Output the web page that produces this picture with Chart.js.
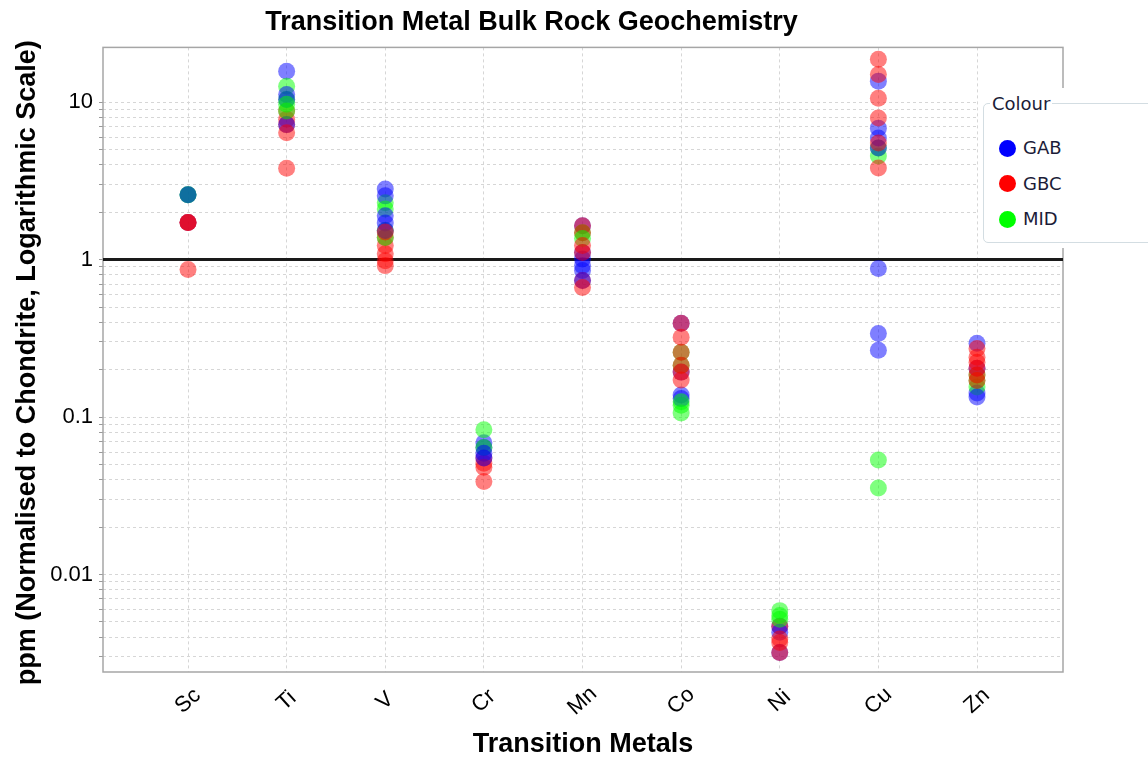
<!DOCTYPE html>
<html>
<head>
<meta charset="utf-8">
<script src="https://cdn.jsdelivr.net/npm/chart.js@4.4.0/dist/chart.umd.min.js"></script>
<style>
  body { margin: 0; background: #fff; }
  #wrap { position: relative; width: 1148px; height: 762px; overflow: hidden; background: #fff; }
  #legend { position: absolute; left: 978px; top: 88px; width: 200px; height: 160px; background: #fff;
            font-family: 'DejaVu Sans', sans-serif; color: #1c1c38; font-size: 18px; }
  #legend .box { position: absolute; left: 5px; top: 15px; width: 230px; height: 140px;
                 border: 1.5px solid #d3dde2; border-radius: 5px; box-sizing: border-box; }
  #legend .ttl { position: absolute; left: 12px; top: 6px; line-height: 20px; padding: 0 2px; background: #fff; }
  #legend .dot { position: absolute; width: 17px; height: 17px; border-radius: 50%; }
  #legend .lab { position: absolute; left: 45px; line-height: 20px; }
</style>
</head>
<body>
<div id="wrap">
  <canvas id="c" width="1148" height="762"></canvas>
  <div id="legend">
    <div class="box"></div>
    <div class="ttl">Colour</div>
    <div class="dot" style="left:20.5px;top:51.5px;background:#0000ff"></div><div class="lab" style="top:50px">GAB</div>
    <div class="dot" style="left:20.5px;top:87px;background:#ff0000"></div><div class="lab" style="top:85.5px">GBC</div>
    <div class="dot" style="left:20.5px;top:122.5px;background:#00ff00"></div><div class="lab" style="top:121px">MID</div>
  </div>
</div>
<script>
const metals = ['Sc', 'Ti', 'V', 'Cr', 'Mn', 'Co', 'Ni', 'Cu', 'Zn'];
const groupNames = ['GAB', 'GBC', 'MID'];

// values per metal (Sc..Zn), each a list of samples
const gabValues = [
  [2.58, 1.72, 2.58],
  [15.7, 11.2, 10.4, 7.2],
  [2.81, 2.54, 1.90, 1.71, 1.53],
  [0.0686, 0.064, 0.059, 0.055],
  [1.64, 1.11, 1.01, 0.916, 0.852, 0.736],
  [0.394, 0.193, 0.138, 0.131],
  [0.0047, 0.0043, 0.0032],
  [13.6, 6.84, 5.92, 5.11, 0.877, 0.340, 0.266],
  [0.294, 0.204, 0.142, 0.134]
];
const gbcValues = [
  [1.72, 1.72, 0.865, 1.72],
  [8.8, 7.8, 7.2, 6.4, 3.8],
  [1.38, 1.23, 1.09, 0.985, 0.916, 1.5],
  [0.055, 0.051, 0.048, 0.039],
  [1.64, 1.48, 1.23, 1.11, 0.736, 0.665],
  [0.394, 0.321, 0.258, 0.213, 0.193, 0.172],
  [0.0047, 0.0039, 0.0037, 0.0032],
  [18.7, 15.0, 10.6, 7.92, 5.50, 3.82],
  [0.273, 0.240, 0.223, 0.204, 0.185, 0.171]
];
const midValues = [
  [2.58, 2.58],
  [12.6, 10.4, 9.7, 8.8],
  [2.30, 2.10, 1.53, 1.38],
  [0.083, 0.064],
  [1.48, 1.36],
  [0.258, 0.213, 0.119, 0.106, 0.125],
  [0.0059, 0.0055, 0.0052],
  [5.11, 4.55, 0.0534, 0.0355],
  [0.185, 0.171, 0.155]
];
const groupColours = ['rgba(0,0,255,0.5)', 'rgba(255,0,0,0.5)', 'rgba(0,255,0,0.5)'];

const yTickValues = [0.003, 0.004, 0.005, 0.006, 0.007, 0.008, 0.009,
  0.01, 0.02, 0.03, 0.04, 0.05, 0.06, 0.07, 0.08, 0.09,
  0.1, 0.2, 0.3, 0.4, 0.5, 0.6, 0.7, 0.8, 0.9,
  1, 2, 3, 4, 5, 6, 7, 8, 9, 10];
const yLabelled = [0.01, 0.1, 1, 10];
const referenceLevel = 1;

const titleText = 'Transition Metal Bulk Rock Geochemistry';
const xTitleText = 'Transition Metals';
const yTitleText = 'ppm (Normalised to Chondrite, Logarithmic Scale)';

const FONT = "'Liberation Sans', Arial, sans-serif";

const groupValues = [gabValues, gbcValues, midValues];
let maxLayer = 0;
groupValues.forEach(g => g.forEach(l => { maxLayer = Math.max(maxLayer, l.length); }));
const datasets = [];
for (let k = 0; k < maxLayer; k++) {
  groupValues.forEach((vals, g) => {
    const pts = [];
    vals.forEach((list, i) => { if (k < list.length) pts.push({ x: i, y: list[k] }); });
    if (pts.length) datasets.push({
      label: groupNames[g], data: pts, backgroundColor: groupColours[g],
      borderWidth: 0, pointRadius: 8.5, pointHoverRadius: 8.5, order: -(k * 3 + g)
    });
  });
}

const decorations = {
  id: 'decorations',
  beforeDatasetsDraw(chart) {
    const { ctx, chartArea: a, scales: { y } } = chart;
    const yy = y.getPixelForValue(referenceLevel);
    ctx.save();
    ctx.strokeStyle = '#a6a6a6';
    ctx.lineWidth = 1.5;
    ctx.strokeRect(a.left, a.top, a.right - a.left, a.bottom - a.top);
    ctx.strokeStyle = '#1a1a1a';
    ctx.lineWidth = 3;
    ctx.beginPath(); ctx.moveTo(a.left, yy); ctx.lineTo(a.right, yy); ctx.stroke();
    ctx.restore();
  },
  afterDraw(chart) {
    const { ctx, chartArea: a, scales: { x } } = chart;
    ctx.save();
    ctx.fillStyle = '#000';
    ctx.font = '22px ' + FONT;
    ctx.textAlign = 'center';
    ctx.textBaseline = 'middle';
    metals.forEach((m, i) => {
      const px = x.getPixelForValue(i);
      ctx.save();
      ctx.translate(px, a.bottom + 29);
      ctx.rotate(-42 * Math.PI / 180);
      ctx.fillText(m, 0, 0);
      ctx.restore();
    });
    ctx.font = 'bold 27px ' + FONT;
    ctx.translate(28, (a.top + a.bottom) / 2 + 3);
    ctx.rotate(-Math.PI / 2);
    ctx.fillText(yTitleText, 0, 0);
    ctx.restore();
  }
};

new Chart(document.getElementById('c'), {
  type: 'scatter',
  data: { datasets },
  options: {
    responsive: false,
    animation: false,
    events: [],
    layout: { padding: { top: 6, right: 85, bottom: 0, left: 0 } },
    plugins: {
      legend: { display: false },
      tooltip: { enabled: false },
      title: {
        display: true, text: titleText, color: '#000',
        font: { family: FONT, size: 27, weight: 'bold' },
        padding: { top: 0, bottom: 9 }
      }
    },
    scales: {
      x: {
        type: 'linear', min: -0.862, max: 8.872,
        afterBuildTicks: s => { s.ticks = metals.map((_, i) => ({ value: i })); },
        afterFit: s => { s.height = 90; },
        ticks: { display: false },
        grid: { color: '#d6d6d6', drawTicks: false, lineWidth: 1 },
        border: { display: false, dash: [3, 3] },
        title: {
          display: true, text: xTitleText, color: '#000',
          font: { family: FONT, size: 27, weight: 'bold' },
          padding: { top: 0, bottom: 1 }
        }
      },
      y: {
        type: 'logarithmic', min: 0.002405, max: 22.27,
        afterBuildTicks: s => { s.ticks = yTickValues.map(v => ({ value: v })); },
        afterFit: s => { s.width = 103; },
        ticks: {
          autoSkip: false, color: '#000', padding: 6,
          font: { family: FONT, size: 22 },
          callback: v => (yLabelled.includes(v) ? String(v) : '')
        },
        grid: { color: '#d6d6d6', tickLength: 4, tickColor: '#9a9a9a', lineWidth: 1 },
        border: { display: false, dash: [3, 3] }
      }
    }
  },
  plugins: [decorations]
});
</script>
</body>
</html>
